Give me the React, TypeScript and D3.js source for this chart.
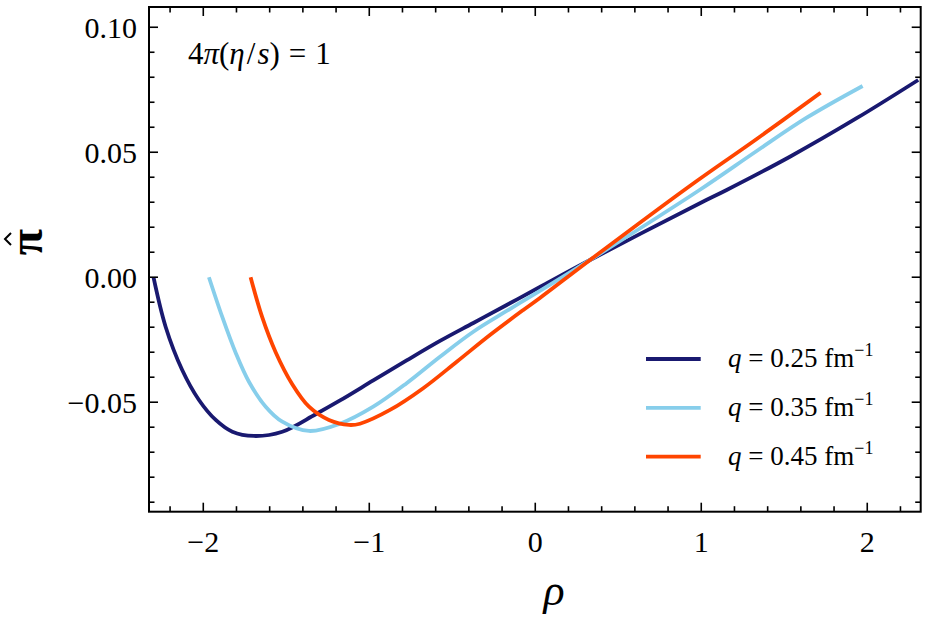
import React from "react";
import * as d3 from "d3";

// curves: rho (x) and pi-hat (y)
const rhoQ025 = [-2.3, -2.227, -2.127, -2.026, -1.925, -1.825, -1.695, -1.524, -1.323, -1.176, -0.976, -0.775, -0.574, -0.373, -0.172, 0.028, 0.33, 0.992, 1.153, 1.534, 1.936, 2.307];
const piQ025 = [0.0, -0.0198, -0.0371, -0.0491, -0.0571, -0.0618, -0.0635, -0.0618, -0.0548, -0.0493, -0.0413, -0.0333, -0.0255, -0.0183, -0.0111, -0.0039, 0.0069, 0.0296, 0.0349, 0.0482, 0.0636, 0.0789];

const rhoQ035 = [-1.966, -1.886, -1.805, -1.725, -1.624, -1.524, -1.363, -1.176, -0.976, -0.775, -0.574, -0.373, -0.172, 0.028, 0.33, 0.992, 1.334, 1.635, 1.972];
const piQ035 = [0.0, -0.0158, -0.0302, -0.0418, -0.0518, -0.0578, -0.0615, -0.0586, -0.0518, -0.0424, -0.0318, -0.0218, -0.0135, -0.0055, 0.0069, 0.035, 0.0505, 0.0638, 0.0765];

const rhoQ045 = [-1.715, -1.645, -1.564, -1.464, -1.363, -1.243, -1.122, -1.056, -0.875, -0.675, -0.473, -0.273, -0.072, 0.028, 0.33, 0.931, 1.334, 1.719];
const piQ045 = [0.0, -0.0160, -0.0300, -0.0428, -0.0518, -0.0571, -0.0591, -0.0586, -0.0531, -0.0444, -0.0338, -0.0231, -0.0131, -0.0083, 0.0069, 0.0365, 0.0553, 0.0738];

const seriesRho = [rhoQ025, rhoQ035, rhoQ045];
const seriesPi = [piQ025, piQ035, piQ045];
const seriesQ = ["0.25", "0.35", "0.45"];
const seriesColors = ["#191970", "#87CEEB", "#FF4500"];

const xMajor = [-2, -1, 0, 1, 2];
const xLabels = ["\u22122", "\u22121", "0", "1", "2"];
const yMajor = [-0.05, 0, 0.05, 0.1];
const yLabels = ["\u22120.05", "0.00", "0.05", "0.10"];

const W = 926;
const H = 632;
const left = 149;
const right = 920.7;
const top = 7;
const bottom = 511.7;
const font = "Liberation Serif, DejaVu Serif, serif";

export default function App() {
  const x = d3.scaleLinear().domain([-2.327, 2.322]).range([left, right]);
  const y = d3.scaleLinear().domain([-0.0938, 0.1081]).range([bottom, top]);

  const line = d3
    .line<[number, number]>()
    .x((d) => x(d[0]))
    .y((d) => y(d[1]))
    .curve(d3.curveCatmullRom.alpha(0.5));

  const xMinor = d3.range(-2.2, 2.21, 0.2).filter((v) => Math.abs(v - Math.round(v)) > 0.01);
  const yMinor = d3.range(-9, 11).map((v) => v / 100).filter((v) => Math.abs(v * 20 - Math.round(v * 20)) > 0.01);

  const major = 9;
  const minor = 5.5;

  return (
    <svg width={W} height={H} style={{ position: "absolute", left: 0, top: 0, background: "#fff", fontFamily: font }}>
      <defs>
        <clipPath id="plot">
          <rect x={left} y={top} width={right - left} height={bottom - top} />
        </clipPath>
      </defs>

      {/* curves */}
      <g clipPath="url(#plot)">
        {seriesRho.map((r, i) => (
          <path
            key={i}
            d={line(r.map((v, j) => [v, seriesPi[i][j]] as [number, number])) || ""}
            fill="none"
            stroke={seriesColors[i]}
            strokeWidth={3.8}
            strokeLinejoin="round"
          />
        ))}
      </g>

      {/* ticks, mirrored on all sides */}
      <g stroke="#000" strokeWidth={1.6}>
        {xMajor.map((v) => (
          <g key={"xM" + v}>
            <line x1={x(v)} x2={x(v)} y1={bottom} y2={bottom - major} />
            <line x1={x(v)} x2={x(v)} y1={top} y2={top + major} />
          </g>
        ))}
        {xMinor.map((v, i) => (
          <g key={"xm" + i}>
            <line x1={x(v)} x2={x(v)} y1={bottom} y2={bottom - minor} />
            <line x1={x(v)} x2={x(v)} y1={top} y2={top + minor} />
          </g>
        ))}
        {yMajor.map((v) => (
          <g key={"yM" + v}>
            <line x1={left} x2={left + major} y1={y(v)} y2={y(v)} />
            <line x1={right} x2={right - major} y1={y(v)} y2={y(v)} />
          </g>
        ))}
        {yMinor.map((v, i) => (
          <g key={"ym" + i}>
            <line x1={left} x2={left + minor} y1={y(v)} y2={y(v)} />
            <line x1={right} x2={right - minor} y1={y(v)} y2={y(v)} />
          </g>
        ))}
      </g>

      <rect x={left} y={top} width={right - left} height={bottom - top} fill="none" stroke="#000" strokeWidth={2} />

      {/* tick labels */}
      <g fontSize={30} fill="#000">
        {xMajor.map((v, i) => (
          <text key={"xl" + v} x={x(v)} y={552} textAnchor="middle">
            {xLabels[i]}
          </text>
        ))}
        {yMajor.map((v, i) => (
          <text key={"yl" + v} x={137} y={y(v) + 10.5} textAnchor="end">
            {yLabels[i]}
          </text>
        ))}
      </g>

      {/* axis labels */}
      <text x={554} y={605} fontSize={44} fontStyle="italic" textAnchor="middle">
        ρ
      </text>
      <g transform="translate(42,242) rotate(-90)">
        <text x={0} y={0} fontSize={48} fontWeight="bold" textAnchor="middle">
          π
        </text>
        <polyline points="-3,-31 3,-37 9,-31" fill="none" stroke="#000" strokeWidth={2} />
      </g>

      {/* annotation */}
      <text x={188} y={64} fontSize={31}>
        4<tspan fontStyle="italic">π</tspan>(<tspan fontStyle="italic">η</tspan>
        <tspan dx={2}>/</tspan>
        <tspan dx={2} fontStyle="italic">s</tspan>)
        <tspan dx={9}>=</tspan>
        <tspan dx={9}>1</tspan>
      </text>

      {/* legend */}
      {seriesQ.map((q, i) => {
        const ly = 359 + i * 48.8;
        return (
          <g key={"lg" + q}>
            <line x1={646} x2={700.7} y1={ly} y2={ly} stroke={seriesColors[i]} strokeWidth={3.8} />
            <text x={728} y={ly + 8} fontSize={27}>
              <tspan fontStyle="italic">q</tspan>
              {" = " + q + " fm"}
              <tspan dy={-11} fontSize={18}>−1</tspan>
            </text>
          </g>
        );
      })}
    </svg>
  );
}
